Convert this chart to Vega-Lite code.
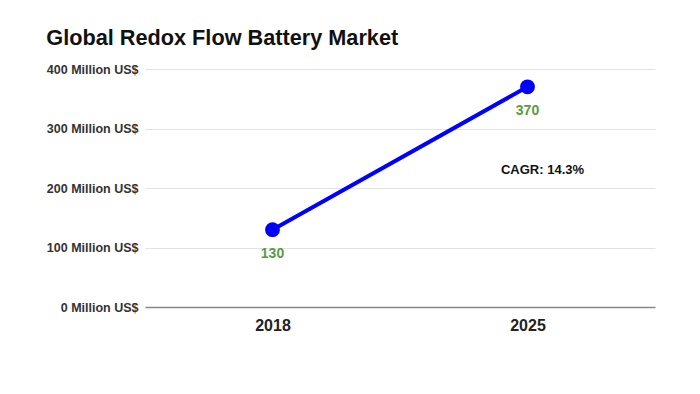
{
  "$schema": "https://vega.github.io/schema/vega-lite/v6.json",
  "width": 510,
  "height": 238,
  "autosize": "none",
  "padding": {"left": 145, "top": 69, "right": 45, "bottom": 87},
  "background": "white",
  "title": {
    "text": "Global Redox Flow Battery Market",
    "anchor": "start",
    "frame": "bounds",
    "font": "Liberation Sans",
    "fontSize": 21.7,
    "fontWeight": "bold",
    "color": "#111111",
    "offset": 13
  },
  "config": {
    "view": {"stroke": null},
    "font": "Liberation Sans"
  },
  "data": {
    "values": [
      {"year": "2018", "value": 130},
      {"year": "2025", "value": 370}
    ]
  },
  "encoding": {
    "x": {
      "field": "year",
      "type": "ordinal",
      "scale": {"type": "point", "padding": 0.5},
      "axis": {
        "title": null,
        "labelAngle": 0,
        "ticks": false,
        "domainColor": "#888888",
        "domainWidth": 1.5,
        "labelFont": "Liberation Sans",
        "labelFontSize": 16,
        "labelFontWeight": "bold",
        "labelColor": "#222222",
        "labelPadding": 10,
        "grid": false
      }
    },
    "y": {
      "field": "value",
      "type": "quantitative",
      "scale": {"domain": [0, 400]},
      "axis": {
        "title": null,
        "values": [0, 100, 200, 300, 400],
        "labelExpr": "datum.value + ' Million US$'",
        "ticks": false,
        "domain": false,
        "gridColor": "#e2e2e2",
        "gridWidth": 1,
        "labelFont": "Liberation Sans",
        "labelFontSize": 12.5,
        "labelFontWeight": "bold",
        "labelColor": "#333333",
        "labelPadding": 7
      }
    }
  },
  "layer": [
    {
      "mark": {"type": "line", "color": "#0000ff", "strokeWidth": 4}
    },
    {
      "mark": {"type": "point", "filled": true, "color": "#0000ff", "size": 220, "opacity": 1}
    },
    {
      "mark": {"type": "text", "dy": 24, "fontSize": 14, "fontWeight": "bold", "color": "#5b9b40", "font": "Liberation Sans"},
      "encoding": {"text": {"field": "value", "type": "quantitative"}}
    },
    {
      "data": {"values": [{"year": "2025", "value": 230, "note": "CAGR: 14.3%"}]},
      "mark": {"type": "text", "dx": 15, "fontSize": 13, "fontWeight": "bold", "color": "#111111", "font": "Liberation Sans"},
      "encoding": {"text": {"field": "note", "type": "nominal"}}
    }
  ]
}
